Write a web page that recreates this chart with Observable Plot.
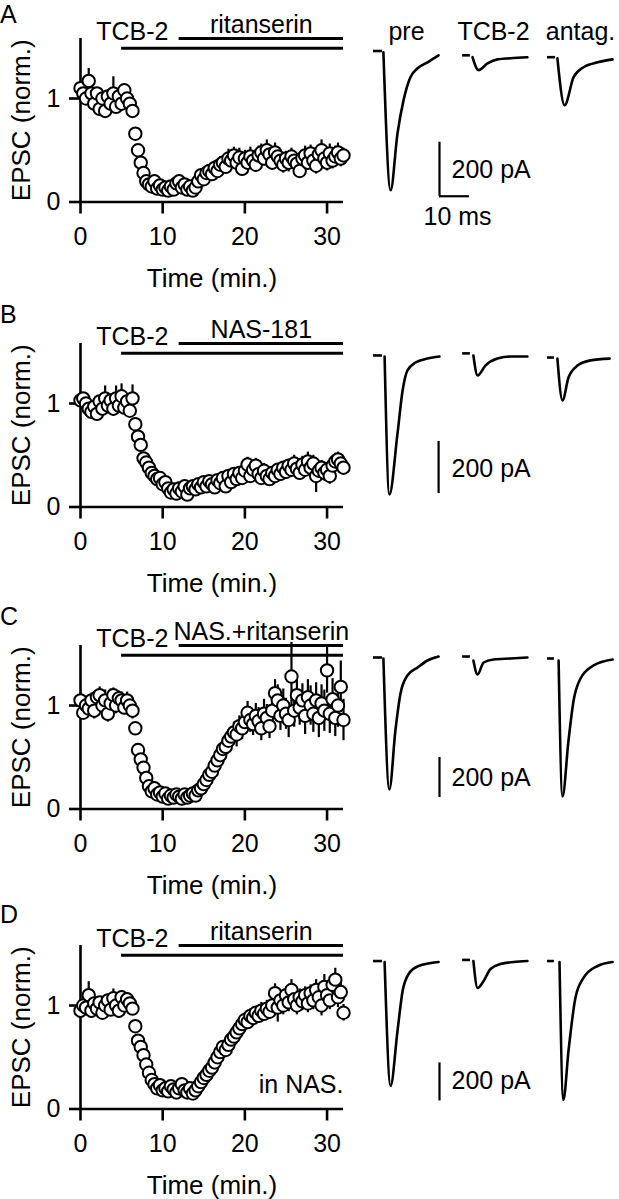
<!DOCTYPE html>
<html><head><meta charset="utf-8">
<script src="https://cdn.jsdelivr.net/npm/d3@7"></script>
<script src="https://cdn.jsdelivr.net/npm/@observablehq/plot@0.6"></script>
<style>
body{margin:0;background:#fff;}
#fig{position:relative;width:619px;height:1199px;overflow:hidden;background:#fff;font-family:"Liberation Sans",Arial,Helvetica,sans-serif;}
.abs{position:absolute;}
.letter{font-size:25px;line-height:28px;color:#000;left:0;}
</style>
</head><body><div id="fig"></div>
<script>
// ---------- DATA ----------
const times = [0,0.33,0.67,1,1.33,1.67,2,2.33,2.67,3,3.33,3.67,4,4.33,4.67,5,5.33,5.67,6,6.33,6.67,7,7.33,7.67,8,8.33,8.67,9,9.33,9.67,10,10.33,10.67,11,11.33,11.67,12,12.33,12.67,13,13.33,13.67,14,14.33,14.67,15,15.33,15.67,16,16.33,16.67,17,17.33,17.67,18,18.33,18.67,19,19.33,19.67,20,20.33,20.67,21,21.33,21.67,22,22.33,22.67,23,23.33,23.67,24,24.33,24.67,25,25.33,25.67,26,26.33,26.67,27,27.33,27.67,28,28.33,28.67,29,29.33,29.67,30,30.33,30.67,31,31.33,31.67,32];

const epscA = [1.1,1.05,1.0,1.17,1.05,0.95,1.05,0.9,1.0,0.88,1.02,0.95,1.05,0.92,1.02,0.95,1.08,1.0,0.95,0.88,
 0.66,0.5,0.38,0.28,0.2,0.17,0.15,0.2,0.13,0.16,0.12,0.14,0.11,0.15,0.12,0.18,0.2,0.14,0.17,0.12,
 0.15,0.11,0.14,0.2,0.26,0.22,0.28,0.3,0.27,0.33,0.3,0.36,0.38,0.34,0.42,0.4,0.45,0.38,0.43,0.32,
 0.42,0.38,0.44,0.4,0.36,0.45,0.48,0.42,0.5,0.46,0.38,0.48,0.44,0.4,0.36,0.42,0.38,0.44,0.4,0.37,
 0.3,0.42,0.45,0.38,0.47,0.4,0.35,0.46,0.5,0.42,0.38,0.47,0.4,0.44,0.48,0.42,0.45];
const semA = [0.06,0.05,0.06,0.12,0.05,0.06,0.05,0.06,0.05,0.07,0.06,0.05,0.16,0.06,0.05,0.07,0.06,0.1,0.06,0.07,
 0.06,0.05,0.05,0.04,0.04,0.03,0.03,0.03,0.03,0.03,0.03,0.03,0.03,0.03,0.03,0.03,0.04,0.03,0.03,0.03,
 0.03,0.03,0.04,0.04,0.06,0.05,0.07,0.06,0.05,0.07,0.06,0.08,0.07,0.06,0.09,0.07,0.08,0.07,0.09,0.07,
 0.08,0.07,0.09,0.08,0.07,0.09,0.08,0.07,0.1,0.08,0.07,0.09,0.08,0.07,0.08,0.07,0.09,0.08,0.07,0.08,
 0.07,0.08,0.09,0.07,0.08,0.07,0.08,0.09,0.1,0.08,0.08,0.09,0.08,0.1,0.09,0.08,0.07];

const epscB = [1.03,1.05,1.0,0.95,0.92,0.97,0.9,1.02,0.95,1.05,0.98,1.03,0.95,1.05,0.98,1.07,0.96,1.02,0.93,1.05,
 0.8,0.68,0.6,0.47,0.43,0.38,0.33,0.3,0.27,0.28,0.22,0.24,0.18,0.14,0.17,0.13,0.18,0.15,0.2,0.12,
 0.18,0.2,0.17,0.22,0.19,0.24,0.2,0.25,0.22,0.19,0.26,0.23,0.28,0.2,0.3,0.24,0.32,0.27,0.33,0.28,
 0.35,0.41,0.3,0.36,0.4,0.32,0.28,0.35,0.3,0.27,0.33,0.3,0.36,0.32,0.38,0.34,0.4,0.36,0.42,0.37,
 0.33,0.41,0.36,0.44,0.38,0.42,0.3,0.35,0.38,0.33,0.36,0.3,0.4,0.44,0.46,0.42,0.38];
const semB = [0.05,0.04,0.05,0.06,0.05,0.06,0.05,0.06,0.05,0.12,0.06,0.05,0.07,0.12,0.06,0.12,0.06,0.07,0.06,0.13,
 0.06,0.05,0.05,0.05,0.04,0.04,0.04,0.04,0.03,0.04,0.03,0.03,0.03,0.03,0.03,0.03,0.03,0.03,0.03,0.03,
 0.03,0.04,0.03,0.04,0.04,0.04,0.05,0.04,0.05,0.04,0.05,0.04,0.05,0.05,0.06,0.05,0.06,0.05,0.06,0.05,
 0.06,0.07,0.06,0.06,0.07,0.06,0.06,0.07,0.06,0.06,0.06,0.07,0.06,0.07,0.06,0.07,0.06,0.07,0.08,0.07,
 0.07,0.08,0.07,0.09,0.07,0.08,0.16,0.08,0.07,0.08,0.07,0.08,0.07,0.08,0.07,0.08,0.07];

const epscC = [1.05,0.93,1.0,0.97,1.05,0.95,1.08,1.1,1.0,1.05,0.92,1.02,1.1,1.0,1.07,1.05,0.98,1.05,1.0,0.95,
 0.78,0.57,0.48,0.4,0.3,0.22,0.17,0.2,0.14,0.16,0.12,0.15,0.1,0.13,0.11,0.14,0.12,0.1,0.14,0.11,
 0.13,0.15,0.13,0.18,0.2,0.24,0.28,0.33,0.36,0.42,0.47,0.52,0.58,0.6,0.66,0.7,0.74,0.72,0.8,0.78,
 0.84,0.93,0.86,0.82,0.9,0.85,0.78,0.92,0.88,0.8,0.95,1.12,1.05,0.9,1.0,0.92,0.86,1.28,0.95,1.1,
 0.98,1.05,0.9,1.08,1.0,0.92,1.05,0.88,1.02,0.95,1.34,0.92,1.06,0.88,1.0,1.18,0.86];
const semC = [0.07,0.06,0.07,0.06,0.07,0.08,0.07,0.08,0.07,0.1,0.08,0.14,0.07,0.08,0.07,0.08,0.07,0.08,0.07,0.08,
 0.06,0.05,0.05,0.05,0.04,0.04,0.04,0.03,0.03,0.03,0.03,0.03,0.03,0.03,0.03,0.03,0.03,0.03,0.03,0.03,
 0.03,0.03,0.03,0.04,0.04,0.05,0.05,0.06,0.06,0.07,0.07,0.08,0.08,0.09,0.1,0.09,0.1,0.12,0.1,0.11,
 0.1,0.11,0.12,0.11,0.12,0.13,0.12,0.14,0.13,0.12,0.14,0.13,0.15,0.14,0.16,0.15,0.17,0.33,0.16,0.18,
 0.17,0.16,0.18,0.17,0.19,0.18,0.17,0.19,0.18,0.2,0.22,0.19,0.2,0.18,0.21,0.25,0.2];

const epscD = [0.95,1.0,0.98,1.1,0.95,1.02,0.97,1.03,0.93,1.0,1.05,0.96,1.07,1.0,0.95,1.08,1.0,1.06,1.02,0.97,
 0.8,0.66,0.6,0.52,0.43,0.35,0.28,0.24,0.2,0.23,0.18,0.2,0.17,0.22,0.19,0.16,0.2,0.24,0.18,0.16,
 0.2,0.15,0.18,0.22,0.26,0.3,0.33,0.37,0.4,0.45,0.5,0.55,0.6,0.57,0.62,0.67,0.7,0.74,0.78,0.82,
 0.86,0.84,0.9,0.88,0.93,0.9,0.95,0.92,0.97,0.94,1.0,1.12,0.98,1.05,1.0,1.1,1.03,1.15,1.06,1.0,
 1.08,1.04,1.1,1.02,1.12,1.05,1.15,1.08,1.0,1.18,1.1,1.05,1.2,1.25,1.08,1.13,0.93];
const semD = [0.05,0.06,0.05,0.13,0.06,0.05,0.06,0.05,0.06,0.05,0.06,0.05,0.09,0.06,0.05,0.06,0.05,0.06,0.05,0.06,
 0.05,0.04,0.04,0.04,0.03,0.03,0.03,0.03,0.03,0.03,0.03,0.03,0.03,0.03,0.03,0.03,0.03,0.03,0.03,0.03,
 0.03,0.03,0.03,0.03,0.04,0.04,0.04,0.05,0.05,0.05,0.05,0.06,0.05,0.06,0.06,0.06,0.07,0.06,0.07,0.06,
 0.07,0.06,0.07,0.07,0.06,0.07,0.08,0.07,0.08,0.07,0.08,0.09,0.14,0.08,0.09,0.08,0.09,0.1,0.08,0.09,
 0.08,0.09,0.08,0.09,0.08,0.09,0.1,0.09,0.1,0.12,0.1,0.09,0.1,0.11,0.1,0.09,0.08];

// drug application periods (min)
const drugsA = [{name:"TCB-2", start:5, end:32}, {name:"ritanserin", start:12, end:32}];
const drugsB = [{name:"TCB-2", start:5, end:32}, {name:"NAS-181", start:12, end:32}];
const drugsC = [{name:"TCB-2", start:5, end:32}, {name:"NAS.+ritanserin", start:12, end:32}];
const drugsD = [{name:"TCB-2", start:5, end:32}, {name:"ritanserin", start:12, end:32}];
const notesD = [{t:32, v:0.15, text:"in NAS."}];

const xTicks = [0,10,20,30];
const yTicks = [0,1];

// example EPSC traces: [time (ms), current (pA)]
const traceCols = ["pre","TCB-2","antag."];
const dashA = [["pre",0,3,0],["TCB-2",0.7,3.3,-16],["antag.",0,2.7,-23]];
const wavePreA = [[3.3,-5],[5.7,-516],[8.0,-305],[10.0,-183],[12.3,-97],[14.7,-64],[18.0,-42],[21.7,-16]];
const waveTcbA = [[4.0,-23],[6.0,-71],[9.0,-46],[12.3,-31],[16.7,-27],[22.3,-23]];
const waveAntA = [[3.3,-27],[5.7,-201],[8.7,-97],[12,-60],[16.7,-42],[21.7,-31]];

const dashB = [["pre",0,3,4],["TCB-2",0.7,3.3,12],["antag.",0,2.3,-4]];
const wavePreB = [[3.7,0],[5.3,-531],[8.0,-296],[9.7,-131],[11.3,-54],[14,-23],[18,-8],[22,0]];
const waveTcbB = [[4.3,4],[5.7,-73],[8.3,-35],[12.3,-8],[16.7,0],[22.3,0]];
const waveAntB = [[3.3,-8],[5,-169],[7,-81],[10,-35],[14.3,-15],[20.7,-8]];

const dashC = [["pre",0,3,0],["TCB-2",0.7,3.3,5],["antag.",0,2.3,-5]];
const wavePreC = [[3.3,-5],[5.3,-660],[7.3,-365],[9,-180],[11.3,-90],[14.7,-50],[18,-15],[21.7,5]];
const waveTcbC = [[4.3,-15],[5.7,-85],[7.7,-25],[11,-10],[16.7,-5],[22.3,0]];
const waveAntC = [[3.7,-15],[5,-695],[7,-415],[8.7,-215],[11,-105],[15.3,-40],[21.7,-10]];

const dashD = [["pre",0,3,5],["TCB-2",0.7,3.3,11],["antag.",0,2.3,5]];
const wavePreD = [[3.7,0],[5.7,-652],[8,-363],[9.7,-153],[11.7,-63],[15,-21],[21.7,0]];
const waveTcbD = [[4.3,5],[5.7,-137],[7.7,-100],[10,-37],[13.3,-11],[17.7,0],[22.3,5]];
const waveAntD = [[4,0],[5.3,-726],[7,-468],[9.3,-189],[12,-84],[16.7,-21],[21.7,0]];

// scale bars (ms, pA)
const scaleA = {x:22, y1:-538, y2:-338, x2:32, lx:26, ly:-471, mx:28, my:-646};
const scaleB = {x:21.7, y1:-527, y2:-327, lx:26, ly:-465};
const scaleC = {x:22, y1:-700, y2:-500, lx:26, ly:-640};
const scaleD = {x:22, y1:-731, y2:-531, lx:26, ly:-668};

// ---------- LAYOUT ----------
const FONT = '"Liberation Sans", Arial, Helvetica, sans-serif';
const fig = document.getElementById("fig");
const baseStyle = {fontFamily: FONT, fontSize: "25px", color: "#000", background: "transparent", overflow: "visible"};
const LOW = 1.485, HIGH = 1.58;

function place(el, left, top) {
  el.classList.add("abs");
  el.style.left = left + "px";
  el.style.top = top + "px";
  fig.appendChild(el);
}

function scatter(values, errors, drugs, notes) {
  const data = times.map((t, i) => ({t, v: values[i], e: errors[i]}));
  const [base, add] = drugs;
  return Plot.plot({
    width: 360, height: 292,
    marginLeft: 80, marginRight: 17, marginTop: 38, marginBottom: 90.5,
    style: baseStyle,
    x: {domain: [0, 32]},
    y: {domain: [0, HIGH]},
    marks: [
      Plot.axisX({ticks: xTicks, tickFormat: d => String(d), tickSize: 12, tickPadding: 13, strokeWidth: 2.6, fontSize: 25, label: null}),
      Plot.axisY({ticks: yTicks, tickFormat: d => String(d), tickSize: 11, tickPadding: 9, strokeWidth: 2.6, fontSize: 25, label: null}),
      Plot.ruleY([0], {x1: 0, x2: 32, strokeWidth: 2.6}),
      Plot.ruleX([0], {y1: 0, y2: HIGH, strokeWidth: 2.6}),
      Plot.text(["Time (min.)"], {text: d => d, frameAnchor: "bottom", textAnchor: "middle", dy: 84.5, lineAnchor: "bottom", fontSize: 26}),
      Plot.text(["EPSC (norm.)"], {text: d => d, frameAnchor: "left", textAnchor: "middle", rotate: -90, dx: -69, lineAnchor: "top", fontSize: 26}),
      Plot.ruleY([base], {y: () => LOW, x1: "start", x2: "end", strokeWidth: 3}),
      Plot.ruleY([add], {y: () => HIGH, x1: "start", x2: "end", strokeWidth: 3}),
      Plot.text([base], {text: "name", x: () => add.start - 1.3, y: () => LOW, dy: -8.5, textAnchor: "end", lineAnchor: "bottom", fontSize: 25}),
      Plot.text([add], {text: "name", x: d => (d.start + d.end) / 2, y: () => HIGH, dy: -6, lineAnchor: "bottom", fontSize: 25}),
      notes ? Plot.text(notes, {x: "t", y: "v", text: "text", textAnchor: "end", lineAnchor: "bottom", fontSize: 25}) : null,
      Plot.ruleX(data, {x: "t", y1: d => d.v - d.e, y2: d => d.v + d.e, strokeWidth: 2.2}),
      Plot.dot(data, {x: "t", y: "v", r: 6.2, fill: "white", stroke: "black", strokeWidth: 2})
    ]
  });
}

function traces(dash, waves, sb, pxPerPA, headers) {
  const rows = [];
  waves.forEach(([col, pts]) => pts.forEach(([t, i]) => rows.push({col, t, i})));
  const lo = -760, hi = 50;
  return Plot.plot({
    width: 259, height: 40 + (hi - lo) * pxPerPA + 12,
    marginLeft: 13, marginRight: 6, marginTop: 40, marginBottom: 12,
    style: baseStyle,
    x: {domain: [0, 22], axis: null},
    y: {domain: [lo, hi], axis: null},
    fx: {domain: traceCols, paddingInner: 0.2414, paddingOuter: 0, round: false, axis: null},
    marks: [
      headers ? Plot.text(traceCols, {fx: d => d, text: d => d, frameAnchor: "top", textAnchor: "middle", lineAnchor: "bottom", dy: 3, fontSize: 25}) : null,
      Plot.ruleY(dash, {fx: d => d[0], x1: d => d[1], x2: d => d[2], y: d => d[3], strokeWidth: 2.6}),
      Plot.line(rows, {fx: "col", x: "t", y: "i", z: "col", curve: "monotone-x", strokeWidth: 2.6}),
      Plot.ruleX([sb], {fx: () => "pre", x: "x", y1: "y1", y2: "y2", strokeWidth: 2.2}),
      sb.x2 ? Plot.ruleY([sb], {fx: () => "pre", y: "y1", x1: "x", x2: "x2", strokeWidth: 2.2}) : null,
      Plot.text([sb], {fx: () => "pre", x: "lx", y: "ly", text: () => "200 pA", textAnchor: "start", lineAnchor: "bottom", fontSize: 25}),
      sb.mx ? Plot.text([sb], {fx: () => "pre", x: "mx", y: "my", text: () => "10 ms", lineAnchor: "bottom", fontSize: 25}) : null
    ]
  });
}

const panels = [
  {letter: "A", top: -0.5, letterTop: 0, vals: epscA, sem: semA, drugs: drugsA, notes: null,
   dash: dashA, waves: [["pre", wavePreA], ["TCB-2", waveTcbA], ["antag.", waveAntA]], sb: scaleA, ppa: 54/200, base: 50.7, headers: true},
  {letter: "B", top: 304.5, letterTop: 300, vals: epscB, sem: semB, drugs: drugsB, notes: null,
   dash: dashB, waves: [["pre", wavePreB], ["TCB-2", waveTcbB], ["antag.", waveAntB]], sb: scaleB, ppa: 52/200, base: 356, headers: false},
  {letter: "C", top: 606.8, letterTop: 602, vals: epscC, sem: semC, drugs: drugsC, notes: null,
   dash: dashC, waves: [["pre", wavePreC], ["TCB-2", waveTcbC], ["antag.", waveAntC]], sb: scaleC, ppa: 40/200, base: 657, headers: false},
  {letter: "D", top: 906.8, letterTop: 900, vals: epscD, sem: semD, drugs: drugsD, notes: notesD,
   dash: dashD, waves: [["pre", wavePreD], ["TCB-2", waveTcbD], ["antag.", waveAntD]], sb: scaleD, ppa: 38/200, base: 961, headers: false}
];

for (const p of panels) {
  place(scatter(p.vals, p.sem, p.drugs, p.notes), 0, p.top);
  place(traces(p.dash, p.waves, p.sb, p.ppa, p.headers), 360, p.base - 40 - 50 * p.ppa);
  const lab = document.createElement("div");
  lab.className = "letter";
  lab.textContent = p.letter;
  place(lab, 0, p.letterTop);
}
</script>
</body></html>
